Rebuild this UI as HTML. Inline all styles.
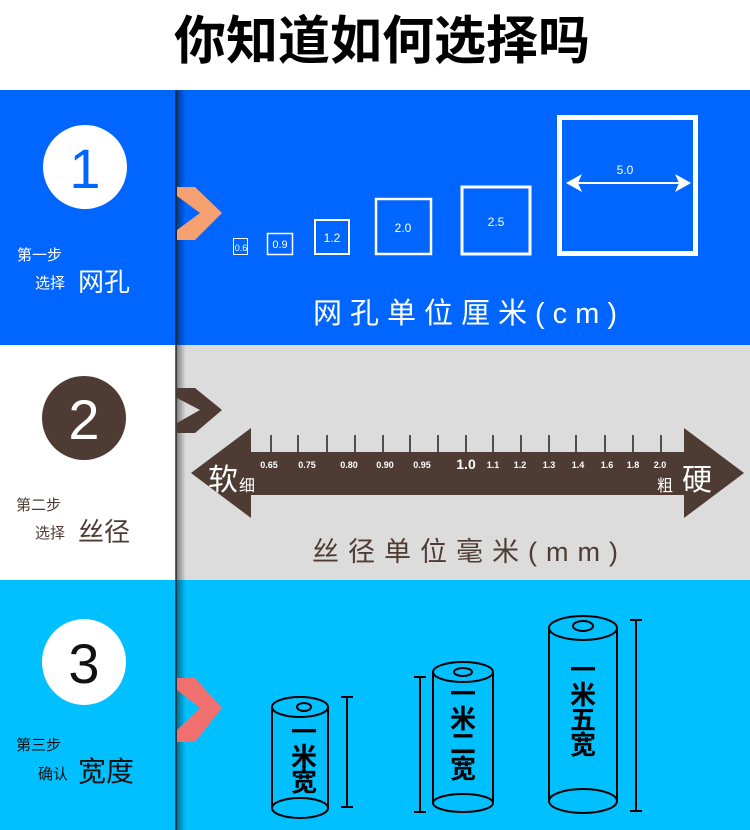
<!DOCTYPE html>
<html><head><meta charset="utf-8"><style>
body{margin:0;width:750px;height:830px;position:relative;overflow:hidden;background:#fff;font-family:"Liberation Sans","Noto Sans CJK SC",sans-serif}
.a{position:absolute;white-space:nowrap}
</style></head><body>
<div class="a" style="left:0;top:12px;width:764px;text-align:center;font-size:52px;font-weight:bold;color:#000;line-height:60px">你知道如何选择吗</div>

<div class="a" style="left:0;top:90px;width:750px;height:255px;background:#0066ff"></div>
<div class="a" style="left:0;top:345px;width:750px;height:235px;background:#dcdcdc"></div>
<div class="a" style="left:0;top:345px;width:176px;height:235px;background:#fff"></div>
<div class="a" style="left:0;top:580px;width:750px;height:250px;background:#00c0ff"></div>

<svg class="a" style="left:0;top:0" width="750" height="830" xmlns="http://www.w3.org/2000/svg">
<defs><linearGradient id="sh" x1="0" x2="1"><stop offset="0" stop-color="#000" stop-opacity=".45"/><stop offset="1" stop-color="#000" stop-opacity="0"/></linearGradient></defs>
<rect x="176" y="90" width="10" height="740" fill="url(#sh)"/>
<rect x="175" y="90" width="2" height="740" fill="#222" opacity=".7"/>
<polygon points="177,187 195,187 222,213 195,240 177,240 177,230 200,213 177,196" fill="#f5a070"/>
<polygon points="177,388 195,388 222,410 195,433 177,433 177,423 200,410 177,398" fill="#4e3b33"/>
<polygon points="177,678 195,678 222,708 195,742 177,742 177,730 200,708 177,690" fill="#f07070"/>
<circle cx="85" cy="167" r="42" fill="#fff"/>
<text x="85" y="188" font-size="56" text-anchor="middle" fill="#0066ff" font-family="Liberation Sans">1</text>
<circle cx="84" cy="418" r="42" fill="#4e3b33"/>
<text x="84" y="439" font-size="56" text-anchor="middle" fill="#fff" font-family="Liberation Sans">2</text>
<ellipse cx="84" cy="662" rx="42" ry="43" fill="#fff"/>
<text x="84" y="683" font-size="56" text-anchor="middle" fill="#111" font-family="Liberation Sans">3</text>

<g fill="none" stroke="#fff">
<rect x="233.5" y="238.5" width="14" height="16" stroke-width="1"/>
<rect x="267.5" y="233.5" width="25" height="21" stroke-width="1.5"/>
<rect x="315" y="220" width="34" height="34" stroke-width="2"/>
<rect x="376" y="199" width="55" height="55" stroke-width="2.5"/>
<rect x="462" y="187" width="68" height="67" stroke-width="3"/>
<rect x="559.5" y="117.5" width="136" height="136" stroke-width="5"/>
<line x1="572" y1="183" x2="685" y2="183" stroke-width="2"/>
</g>
<g fill="#fff"><polygon points="566,183 582,174 578,183 582,192"/><polygon points="691,183 675,174 679,183 675,192"/></g>
<g fill="#fff" font-family="Liberation Sans" text-anchor="middle">
<text x="241" y="251" font-size="9">0.6</text>
<text x="280" y="248" font-size="11">0.9</text>
<text x="332" y="242" font-size="12">1.2</text>
<text x="403" y="232" font-size="12">2.0</text>
<text x="496" y="226" font-size="12">2.5</text>
<text x="625" y="174" font-size="12">5.0</text>
</g>

<polygon points="191,473 251,428 251,452 684,452 684,428 744,473 684,518 684,495 251,495 251,518" fill="#4e3b33"/>
<g stroke="#222" stroke-width="1.5">
<line x1="271" y1="435" x2="271" y2="452"/><line x1="298" y1="435" x2="298" y2="452"/><line x1="327" y1="435" x2="327" y2="452"/><line x1="355" y1="435" x2="355" y2="452"/><line x1="383" y1="435" x2="383" y2="452"/><line x1="410" y1="435" x2="410" y2="452"/><line x1="438" y1="435" x2="438" y2="452"/><line x1="466" y1="435" x2="466" y2="452"/><line x1="493" y1="435" x2="493" y2="452"/><line x1="521" y1="435" x2="521" y2="452"/><line x1="549" y1="435" x2="549" y2="452"/><line x1="576" y1="435" x2="576" y2="452"/><line x1="605" y1="435" x2="605" y2="452"/><line x1="633" y1="435" x2="633" y2="452"/><line x1="661" y1="435" x2="661" y2="452"/>
</g>
<g fill="#fff" font-family="Liberation Sans" font-size="9" font-weight="bold" text-anchor="middle">
<text x="269" y="468">0.65</text><text x="307" y="468">0.75</text><text x="349" y="468">0.80</text><text x="385" y="468">0.90</text><text x="422" y="468">0.95</text>
<text x="466" y="469" font-size="14">1.0</text><text x="493" y="468">1.1</text><text x="520" y="468">1.2</text><text x="549" y="468">1.3</text><text x="578" y="468">1.4</text><text x="607" y="468">1.6</text><text x="633" y="468">1.8</text><text x="660" y="468">2.0</text>
</g>

<g fill="none" stroke="#000" stroke-width="2">
<ellipse cx="300" cy="707" rx="28" ry="10"/><ellipse cx="304" cy="707" rx="7" ry="4"/>
<path d="M272 707 V808 M328 707 V808"/><ellipse cx="300" cy="808" rx="28" ry="10"/>
<path d="M347 697 V807 M341 697 H353 M341 807 H353"/>
<ellipse cx="463" cy="672" rx="30" ry="10"/><ellipse cx="463" cy="672" rx="9" ry="4"/>
<path d="M433 672 V803 M493 672 V803"/><ellipse cx="463" cy="803" rx="30" ry="9"/>
<path d="M420 677 V812 M414 677 H426 M414 812 H426"/>
<ellipse cx="583" cy="628" rx="34" ry="12"/><ellipse cx="583" cy="626" rx="10" ry="5"/>
<path d="M549 628 V800 M617 628 V800"/><ellipse cx="583" cy="801" rx="34" ry="12"/>
<path d="M636 620 V811 M630 620 H642 M630 811 H642"/>
</g>
</svg>

<div class="a" style="left:17px;top:244px;font-size:15px;color:#fff">第一步</div>
<div class="a" style="left:35px;top:272px;font-size:15px;color:#fff">选择</div>
<div class="a" style="left:78px;top:262px;font-size:26px;color:#fff">网孔</div>
<div class="a" style="left:313px;top:290px;font-size:29px;color:#fff;letter-spacing:8px">网孔单位厘米(cm)</div>

<div class="a" style="left:16px;top:494px;font-size:15px;color:#4e3b33">第二步</div>
<div class="a" style="left:35px;top:522px;font-size:15px;color:#4e3b33">选择</div>
<div class="a" style="left:78px;top:512px;font-size:26px;color:#4e3b33">丝径</div>
<div class="a" style="left:312px;top:530px;font-size:27px;color:#4e3b33;letter-spacing:9px">丝径单位毫米(mm)</div>
<div class="a" style="left:208px;top:455px;font-size:30px;color:#fff">软</div>
<div class="a" style="left:239px;top:472px;font-size:16px;color:#fff">细</div>
<div class="a" style="left:657px;top:472px;font-size:16px;color:#fff">粗</div>
<div class="a" style="left:682px;top:455px;font-size:30px;color:#fff">硬</div>

<div class="a" style="left:16px;top:734px;font-size:15px;color:#111">第三步</div>
<div class="a" style="left:38px;top:763px;font-size:15px;color:#111">确认</div>
<div class="a" style="left:78px;top:750px;font-size:28px;color:#111">宽度</div>

<div class="a" style="left:289px;top:720px;width:30px;font-size:26px;font-weight:bold;line-height:25px;color:#000;white-space:normal;text-align:center">一<br>米<br>宽</div>
<div class="a" style="left:448px;top:682px;width:30px;font-size:26px;font-weight:bold;line-height:25px;color:#000;white-space:normal;text-align:center">一<br>米<br>二<br>宽</div>
<div class="a" style="left:568px;top:658px;width:30px;font-size:26px;font-weight:bold;line-height:25px;color:#000;white-space:normal;text-align:center">一<br>米<br>五<br>宽</div>
</body></html>
